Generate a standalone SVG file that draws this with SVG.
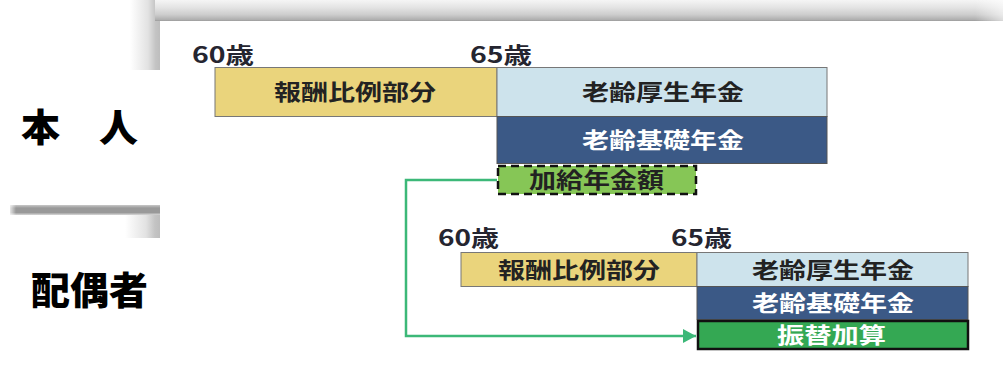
<svg xmlns="http://www.w3.org/2000/svg" width="1003" height="369" viewBox="0 0 1003 369">
<defs>
<linearGradient id="gTop" x1="0" y1="0" x2="0" y2="1">
<stop offset="0" stop-color="#f5f5f5"/><stop offset="0.35" stop-color="#e4e4e4"/><stop offset="0.7" stop-color="#cdcdcd"/><stop offset="0.95" stop-color="#adadad"/><stop offset="1" stop-color="#999"/>
</linearGradient>
<linearGradient id="gTopFade" x1="0" y1="0" x2="1" y2="0">
<stop offset="0" stop-color="#fff" stop-opacity="0"/><stop offset="1" stop-color="#fff" stop-opacity="0.6"/>
</linearGradient>
<linearGradient id="gSide" x1="0" y1="0" x2="1" y2="0">
<stop offset="0" stop-color="#fff"/><stop offset="0.6" stop-color="#e2e2e2"/><stop offset="0.85" stop-color="#c4c4c4"/><stop offset="1" stop-color="#bdbdbd"/>
</linearGradient>
<linearGradient id="gBar" x1="0" y1="0" x2="0" y2="1">
<stop offset="0" stop-color="#c8c8c8"/><stop offset="0.3" stop-color="#999"/><stop offset="0.75" stop-color="#999"/><stop offset="1" stop-color="#d8d8d8"/>
</linearGradient>
<linearGradient id="gBarL" x1="0" y1="0" x2="1" y2="0">
<stop offset="0" stop-color="#fff" stop-opacity="1"/><stop offset="1" stop-color="#fff" stop-opacity="0"/>
</linearGradient>
<marker id="arr" markerWidth="14" markerHeight="14" refX="13" refY="7" orient="auto" markerUnits="userSpaceOnUse">
<path d="M0,0 L13,7 L0,14 Z" fill="#3cb878"/>
</marker>
<style>
.lbl{font-family:"Noto Sans CJK JP","Noto Sans",sans-serif;font-weight:700;font-size:22px;fill:#222;text-anchor:start}
.age{font-family:"Noto Sans CJK JP","Noto Sans",sans-serif;font-weight:700;font-size:22px;fill:#252530}
.big{font-family:"Noto Sans CJK JP",sans-serif;font-weight:900;font-size:38px;fill:#000}
.wt{fill:#fff}
.yel{fill:#ead47c;stroke:#777;stroke-width:1}
.lb{fill:#cde3ec;stroke:#777;stroke-width:1}
.db{fill:#3b5986;stroke:#555;stroke-width:1}
.conn{fill:none;stroke:#3cb878;stroke-width:2.5}
</style>
</defs>
<rect width="1003" height="369" fill="#fff"/>
<!-- frame decorations -->
<g id="decor">
<rect x="130" y="0" width="30" height="70" fill="url(#gSide)"/>
<rect x="155" y="0" width="848" height="21" fill="url(#gTop)"/>
<rect x="975" y="0" width="28" height="21" fill="url(#gTopFade)"/>
<rect x="10" y="205" width="150" height="10" fill="url(#gBar)"/>
<rect x="8" y="203" width="8" height="14" fill="url(#gBarL)"/>
<rect x="125" y="215" width="35" height="23" fill="url(#gSide)"/>
</g>
<g id="side-labels">
<text class="big" x="21" y="141" textLength="117" lengthAdjust="spacingAndGlyphs">本　人</text>
<text class="big" x="31" y="304" textLength="117" lengthAdjust="spacingAndGlyphs">配偶者</text>
</g>
<g id="connectors">
<path class="conn" d="M497,180 H406 V336 H696" marker-end="url(#arr)"/>
</g>
<g id="top-ages">
<text class="age" x="192" y="63" textLength="62" lengthAdjust="spacingAndGlyphs">60歳</text>
<text class="age" x="470" y="63" textLength="62" lengthAdjust="spacingAndGlyphs">65歳</text>
</g>
<g id="top-houshu">
<rect class="yel" x="215" y="67.5" width="282" height="49"/>
<text class="lbl" x="274" y="100" textLength="162" lengthAdjust="spacingAndGlyphs">報酬比例部分</text>
</g>
<g id="top-kousei">
<rect class="lb" x="497" y="67.5" width="330" height="49"/>
<text class="lbl" x="582" y="100" textLength="162" lengthAdjust="spacingAndGlyphs">老齢厚生年金</text>
</g>
<g id="top-kiso">
<rect class="db" x="497" y="116.5" width="330" height="47"/>
<text class="lbl wt" x="582" y="148" textLength="162" lengthAdjust="spacingAndGlyphs">老齢基礎年金</text>
</g>
<g id="top-kakyu">
<rect x="498" y="166" width="198" height="28" fill="#86c656" stroke="#111" stroke-width="2.5" stroke-dasharray="8,5"/>
<text class="lbl" x="529" y="188" textLength="135" lengthAdjust="spacingAndGlyphs">加給年金額</text>
</g>
<g id="bottom-ages">
<text class="age" x="438" y="246" textLength="61" lengthAdjust="spacingAndGlyphs">60歳</text>
<text class="age" x="671" y="246" textLength="61" lengthAdjust="spacingAndGlyphs">65歳</text>
</g>
<g id="bottom-houshu">
<rect class="yel" x="461" y="252.5" width="236" height="34"/>
<text class="lbl" x="498" y="278" textLength="162" lengthAdjust="spacingAndGlyphs">報酬比例部分</text>
</g>
<g id="bottom-kousei">
<rect class="lb" x="697" y="252.5" width="271" height="34"/>
<text class="lbl" x="752" y="278" textLength="162" lengthAdjust="spacingAndGlyphs">老齢厚生年金</text>
</g>
<g id="bottom-kiso">
<rect class="db" x="697" y="286.5" width="271" height="33"/>
<text class="lbl wt" x="752" y="311" textLength="162" lengthAdjust="spacingAndGlyphs">老齢基礎年金</text>
</g>
<g id="bottom-furikae">
<rect x="698" y="321" width="270" height="28" fill="#34a853" stroke="#111" stroke-width="2.5"/>
<text class="lbl wt" x="777" y="343" textLength="109" lengthAdjust="spacingAndGlyphs">振替加算</text>
</g>
</svg>
